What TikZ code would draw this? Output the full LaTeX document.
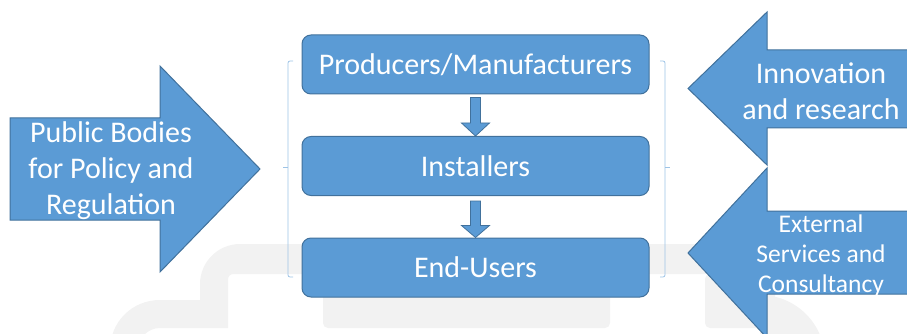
\documentclass[tikz,border=0pt]{standalone}
\usepackage{fontspec}
\setmainfont{Carlito}
\usetikzlibrary{calc}
\definecolor{acc}{HTML}{5B9BD5}
\definecolor{accline}{HTML}{41719C}
\definecolor{brk}{HTML}{9DC3E6}
\definecolor{wm}{HTML}{F2F2F2}
\begin{document}
\begin{tikzpicture}[x=1pt,y=-1pt,
  box/.style={draw=accline, line width=1pt, fill=acc, rounded corners=9pt,
    minimum width=347pt, minimum height=59pt, inner sep=0pt, text=white,
    font=\fontsize{30}{36}\selectfont},
  bigarrow/.style={draw=accline, line width=1pt, fill=acc},
  smallarrow/.style={draw=accline, line width=0.8pt, fill=acc},
  lbl/.style={text=white, align=center, inner sep=0pt, font=\fontsize{30}{36}\selectfont},
  brace/.style={draw=brk, line width=0.8pt, rounded corners=2pt},
  wmark/.style={fill=wm}]
\useasboundingbox (0,0) rectangle (907,334);
\begin{scope}
\clip (0,0) rectangle (907,334);
% faint watermark
\fill[wmark] (780,244) -- (240,244) .. controls (218,244) and (200,262) .. (200,284)
  -- (200,300) -- (160,300) .. controls (132,300) and (110,322) .. (110,350)
  -- (138,350) .. controls (138,338) and (148,328) .. (160,328) -- (228,328)
  -- (228,280) .. controls (228,276) and (230,274) .. (234,274) -- (780,274) -- cycle;
\fill[wmark, rounded corners=5pt] (323,270) rectangle (610,328);
\fill[wmark, rounded corners=5pt] (705,328) -- (705,274) -- (775,274) -- (775,328) -- cycle;
\fill[wmark] (760,295) arc[start angle=-90, end angle=0, radius=65] -- (760,360) -- cycle;
% braces
\draw[brace] (293,61) -- (288,61) -- (288,277) -- (293,277);
\draw[brace] (288,167) -- (283,167);
\draw[brace] (660,61) -- (665,61) -- (665,277) -- (660,277);
\draw[brace] (665,167) -- (670,167);
% big arrows
\filldraw[bigarrow] (10,118) -- (160,118) -- (160,66) -- (260,169) -- (160,272)
  -- (160,220) -- (10,220) -- cycle;
\filldraw[bigarrow] (915,50) -- (767,50) -- (767,12) -- (688,88.5) -- (767,165)
  -- (767,128) -- (915,128) -- cycle;
\filldraw[bigarrow] (915,211) -- (767,211) -- (767,168) -- (688,253) -- (767,338)
  -- (767,294) -- (915,294) -- cycle;
\end{scope}
% labels on the big arrows
\node[lbl] (pub) at (111,171) {Public Bodies\\for Policy and\\Regulation};
\node[lbl] (inno) at (821,91) {Innovation\\and research};
\begin{scope}
\clip (915,211) -- (767,211) -- (767,168) -- (688,253) -- (767,338)
  -- (767,294) -- (915,294) -- cycle;
\node[lbl, font=\fontsize{25.5}{30}\selectfont] (ext) at (821,256) {External\\Services and\\Consultancy};
\end{scope}
% central boxes
\node[box] (prod) at (475.5,64.5) {Producers/Manufacturers};
\node[box] (inst) at (475.5,166) {Installers};
\node[box] (endu) at (475.5,267.5) {End-Users};
% down arrows
\path (prod.south) ++(0,3) coordinate (s1);
\path (inst.north) coordinate (t1);
\filldraw[smallarrow] ($(s1)+(-5,0)$) -- ($(s1)+(5,0)$) -- ($(t1)+(5,-13)$) -- ($(t1)+(14,-13)$)
  -- (t1) -- ($(t1)+(-14,-13)$) -- ($(t1)+(-5,-13)$) -- cycle;
\path (inst.south) ++(0,5) coordinate (s2);
\path (endu.north) coordinate (t2);
\filldraw[smallarrow] ($(s2)+(-5,0)$) -- ($(s2)+(5,0)$) -- ($(t2)+(5,-12)$) -- ($(t2)+(14,-12)$)
  -- (t2) -- ($(t2)+(-14,-12)$) -- ($(t2)+(-5,-12)$) -- cycle;
\end{tikzpicture}
\end{document}
